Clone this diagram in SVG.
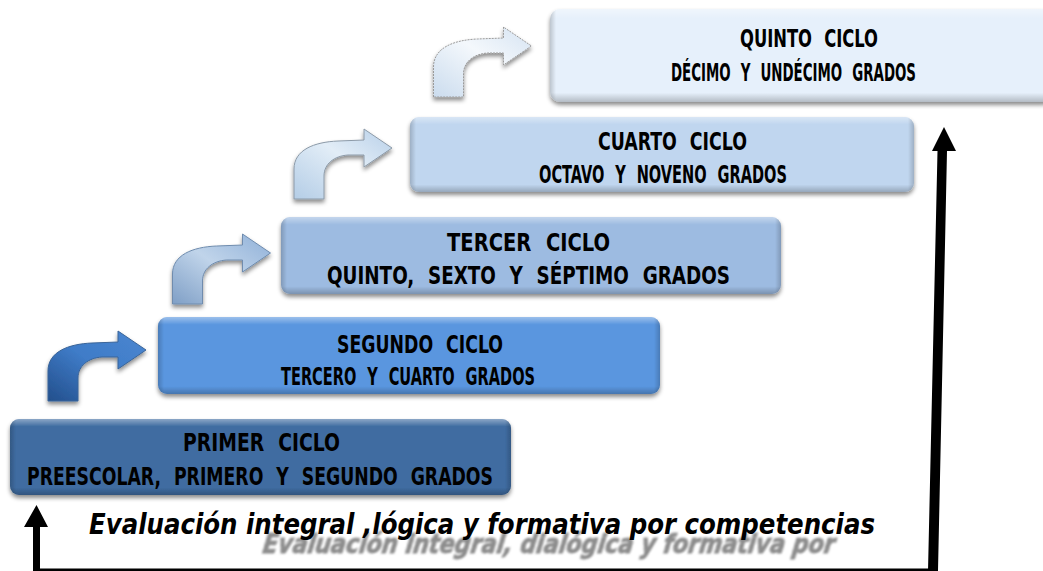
<svg xmlns="http://www.w3.org/2000/svg" width="1043" height="571" viewBox="0 0 1043 571">
<style>
text{font-family:"DejaVu Sans Condensed","DejaVu Sans","Liberation Sans",sans-serif;font-weight:700;fill:#000}
.t{font-size:25px;word-spacing:9px}
.edge{fill:url(#edge)}
.top{fill:url(#topl)}
.arrow{stroke-width:1;filter:url(#sh)}
.box{filter:url(#sh)}
</style>
<defs>
<filter id="sh" x="-5%" y="-10%" width="110%" height="130%"><feDropShadow dx="0" dy="3" stdDeviation="2" flood-color="#000" flood-opacity=".45"/></filter>
<filter id="soft" x="-5%" y="-20%" width="110%" height="140%"><feGaussianBlur stdDeviation="1"/></filter>
<linearGradient id="edge" x1="0" y1="0" x2="0" y2="1"><stop offset="0" stop-color="#fff" stop-opacity=".4"/><stop offset=".1" stop-color="#fff" stop-opacity="0"/><stop offset=".9" stop-color="#000" stop-opacity="0"/><stop offset="1" stop-color="#000" stop-opacity=".22"/></linearGradient>
<linearGradient id="topl" x1="0" y1="0" x2="1" y2="0"><stop offset="0" stop-color="#000" stop-opacity=".18"/><stop offset=".012" stop-color="#000" stop-opacity="0"/><stop offset=".988" stop-color="#000" stop-opacity="0"/><stop offset="1" stop-color="#000" stop-opacity=".18"/></linearGradient>
<linearGradient id="a1" x1="0" y1="1" x2="1" y2="0"><stop offset="0" stop-color="#234f8c"/><stop offset=".5" stop-color="#3f7cc8"/><stop offset="1" stop-color="#4a86d0"/></linearGradient>
<linearGradient id="a2" x1="0" y1="1" x2="1" y2="0"><stop offset="0" stop-color="#7f9fc6"/><stop offset=".5" stop-color="#c0d4ea"/><stop offset="1" stop-color="#8fb0d8"/></linearGradient>
<linearGradient id="a3" x1="0" y1="1" x2="1" y2="0"><stop offset="0" stop-color="#b4cde6"/><stop offset=".55" stop-color="#e2edf7"/><stop offset="1" stop-color="#b7cfe8"/></linearGradient>
<linearGradient id="a4" x1="0" y1="1" x2="1" y2="0"><stop offset="0" stop-color="#cbdcee"/><stop offset=".55" stop-color="#f4f8fc"/><stop offset="1" stop-color="#d5e3f2"/></linearGradient>
<path id="bent" d="M48 401V371C48 352 68 344 92 343L118 342V331L146 350L118 369V357L102 357C88 358 78 366 78 378V401Z"/>
</defs>
<rect width="1043" height="571" fill="#fff"/>
<g id="connectors">
<use href="#bent" class="arrow" fill="url(#a1)" stroke="#3a6498"/>
<use href="#bent" class="arrow" transform="translate(124.500 -97)" fill="url(#a2)" stroke="#6f8cae"/>
<use href="#bent" class="arrow" transform="translate(246 -202)" fill="url(#a3)" stroke="#8c9aa8"/>
<use href="#bent" class="arrow" transform="translate(385.500 -304)" fill="url(#a4)" stroke="#9a9a9a" stroke-dasharray="2 1"/>
<g id="feedback">
<path d="M33 527H24L36.500 505L48 527H40V571H33Z" fill="#000"/>
<path d="M33 568.500H936V571H33Z" fill="#000"/>
<path d="M937.500 151H932L944 127L956 151H947L938 571H928Z" fill="#000"/>
</g>
</g>
<g id="ciclo1">
<g class="box"><rect x="10" y="419" width="501" height="76" rx="9" fill="#3f6ca1"/><rect x="10" y="419" width="501" height="76" rx="9" class="edge"/><rect x="10" y="419" width="501" height="76" rx="9" class="top"/></g>
<text class="t" x="183" y="451" textLength="157" lengthAdjust="spacingAndGlyphs">PRIMER CICLO</text>
<text class="t" x="27" y="485" textLength="466" lengthAdjust="spacingAndGlyphs">PREESCOLAR, PRIMERO Y SEGUNDO GRADOS</text>
</g>
<g id="ciclo2">
<g class="box"><rect x="158" y="317" width="502" height="77" rx="9" fill="#5a96df"/><rect x="158" y="317" width="502" height="77" rx="9" class="edge"/><rect x="158" y="317" width="502" height="77" rx="9" class="top"/></g>
<text class="t" x="337" y="353" textLength="166" lengthAdjust="spacingAndGlyphs">SEGUNDO CICLO</text>
<text class="t" x="281" y="385" textLength="254" lengthAdjust="spacingAndGlyphs">TERCERO Y CUARTO GRADOS</text>
</g>
<g id="ciclo3">
<g class="box"><rect x="281" y="217" width="500" height="77" rx="9" fill="#9dbbe1"/><rect x="281" y="217" width="500" height="77" rx="9" class="edge"/><rect x="281" y="217" width="500" height="77" rx="9" class="top"/></g>
<text class="t" x="447" y="251" textLength="163" lengthAdjust="spacingAndGlyphs">TERCER CICLO</text>
<text class="t" x="327" y="284" textLength="403" lengthAdjust="spacingAndGlyphs">QUINTO, SEXTO Y SÉPTIMO GRADOS</text>
</g>
<g id="ciclo4">
<g class="box"><rect x="410" y="117" width="504" height="75" rx="9" fill="#c0d6ef"/><rect x="410" y="117" width="504" height="75" rx="9" class="edge"/><rect x="410" y="117" width="504" height="75" rx="9" class="top"/></g>
<text class="t" x="598" y="150" textLength="149" lengthAdjust="spacingAndGlyphs">CUARTO CICLO</text>
<text class="t" x="539" y="183" textLength="248" lengthAdjust="spacingAndGlyphs">OCTAVO Y NOVENO GRADOS</text>
</g>
<g id="ciclo5">
<g class="box"><rect x="550" y="9" width="503" height="93" rx="10" fill="#e6f0fb"/><rect x="550" y="9" width="503" height="93" rx="10" class="edge"/><rect x="550" y="9" width="503" height="93" rx="10" class="top"/></g>
<text class="t" x="740" y="47" textLength="138" lengthAdjust="spacingAndGlyphs">QUINTO CICLO</text>
<text class="t" x="671" y="81" textLength="245" lengthAdjust="spacingAndGlyphs">DÉCIMO Y UNDÉCIMO GRADOS</text>
</g>
<g id="lema">
<text transform="translate(262 553) skewX(-8)" font-size="26" font-style="italic" textLength="572" lengthAdjust="spacingAndGlyphs" filter="url(#soft)" style="fill:#8c8c8c;stroke:#8c8c8c;stroke-width:.8px">Evaluación integral, dialógica y formativa por</text>
<text x="89" y="534" font-size="29" font-style="italic" textLength="786" lengthAdjust="spacingAndGlyphs">Evaluación integral ,lógica y formativa por competencias</text>
</g>
</svg>
